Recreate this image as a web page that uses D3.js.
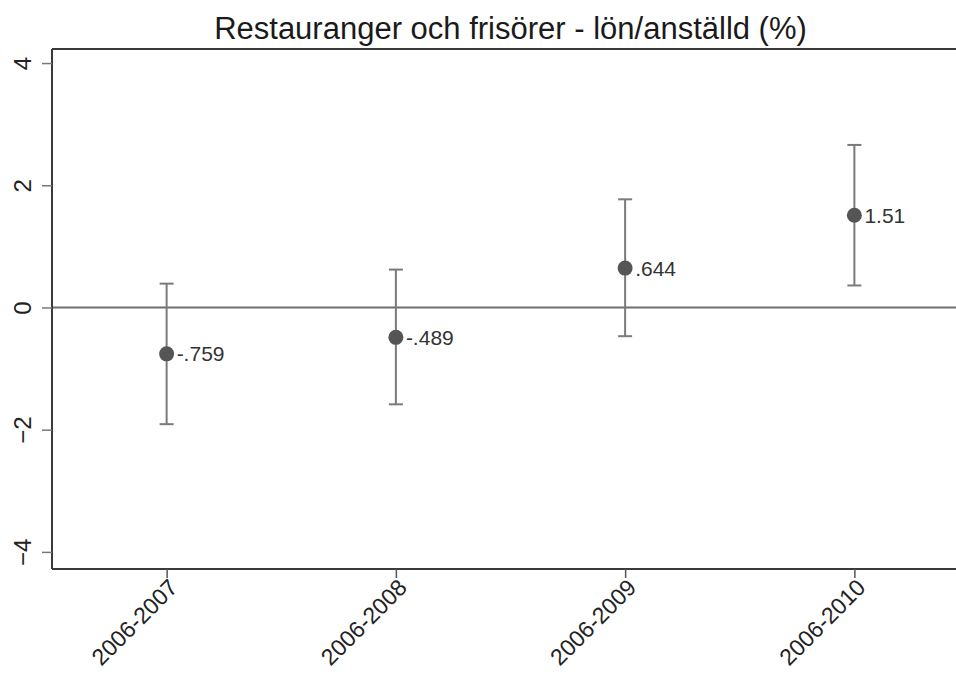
<!DOCTYPE html>
<html>
<head>
<meta charset="utf-8">
<script src="https://cdn.jsdelivr.net/npm/d3@7/dist/d3.min.js"></script>
<style>
  html, body { margin: 0; padding: 0; background: #fff; }
  svg { display: block; font-family: "Liberation Sans", Arial, sans-serif; }
</style>
</head>
<body>
<svg id="chart" width="956" height="677"></svg>
<script>
// Point estimates with 95% confidence intervals, per period
const periods = ["2006-2007", "2006-2008", "2006-2009", "2006-2010"];
const estimates = [-0.759, -0.489, 0.644, 1.51];
const lowerCI = [-1.91, -1.585, -0.47, 0.36];
const upperCI = [0.39, 0.62, 1.77, 2.66];
const estimateLabels = ["-.759", "-.489", ".644", "1.51"];
const yTicks = [-4, -2, 0, 2, 4];
const titleText = "Restauranger och frisörer - lön/anställd (%)";

const svg = d3.select("#chart");
const plotLeft = 52, plotRight = 969, plotTop = 49, plotBottom = 569;
const fontFam = "Liberation Sans, Arial, sans-serif";

const x = d3.scalePoint().domain(periods).range([plotLeft, plotRight]).padding(0.5);
const y = d3.scaleLinear().domain([-4.28, 4.23]).range([plotBottom, plotTop]);

const rows = periods.map((p, i) => ({
  period: p, est: estimates[i], lo: lowerCI[i], hi: upperCI[i], label: estimateLabels[i]
}));

// Title
svg.append("text")
  .attr("x", (plotLeft + plotRight) / 2)
  .attr("y", 39)
  .attr("text-anchor", "middle")
  .attr("font-size", 31)
  .attr("fill", "#1a1a1a")
  .text(titleText);

// Zero reference line
svg.append("line")
  .attr("x1", plotLeft).attr("x2", plotRight)
  .attr("y1", y(0)).attr("y2", y(0))
  .attr("stroke", "#6e6e6e").attr("stroke-width", 2);

// Top frame line
svg.append("line").attr("x1", plotLeft).attr("x2", plotRight)
  .attr("y1", plotTop).attr("y2", plotTop)
  .attr("stroke", "#3a3a3a").attr("stroke-width", 2);

// Y axis
const yAxis = d3.axisLeft(y).tickValues(yTicks).tickSize(10).tickPadding(10)
  .tickFormat(d3.format("d"));
const gy = svg.append("g").attr("transform", `translate(${plotLeft},0)`).call(yAxis);
gy.select(".domain").attr("stroke", "#3a3a3a").attr("stroke-width", 2)
  .attr("d", `M0,${plotTop}V${plotBottom}`);
gy.selectAll(".tick line").attr("stroke", "#777").attr("stroke-width", 1.5);
gy.selectAll(".tick text")
  .attr("font-size", 24).attr("fill", "#222")
  .attr("font-family", fontFam)
  .attr("text-anchor", "middle")
  .attr("x", null)
  .attr("y", 0)
  .attr("dy", "0.36em")
  .attr("transform", "translate(-30,0) rotate(-90)");

// X axis
const xAxis = d3.axisBottom(x).tickSize(9).tickPadding(6);
const gx = svg.append("g").attr("transform", `translate(0,${plotBottom})`).call(xAxis);
gx.select(".domain").attr("stroke", "#3a3a3a").attr("stroke-width", 2)
  .attr("d", `M${plotLeft},0H${plotRight}`);
gx.selectAll(".tick line").attr("stroke", "#555").attr("stroke-width", 1.5);
gx.selectAll(".tick text")
  .attr("font-size", 23).attr("fill", "#222")
  .attr("font-family", fontFam)
  .attr("text-anchor", "end")
  .attr("y", 0).attr("dy", null)
  .attr("transform", "translate(12,20) rotate(-45)");

// Confidence intervals
const g = svg.append("g");
const cap = 7;
g.selectAll("line.ci").data(rows).join("line")
  .attr("class", "ci")
  .attr("x1", d => x(d.period)).attr("x2", d => x(d.period))
  .attr("y1", d => y(d.lo)).attr("y2", d => y(d.hi))
  .attr("stroke", "#7a7a7a").attr("stroke-width", 2);
g.selectAll("line.capHi").data(rows).join("line")
  .attr("class", "capHi")
  .attr("x1", d => x(d.period) - cap).attr("x2", d => x(d.period) + cap)
  .attr("y1", d => y(d.hi)).attr("y2", d => y(d.hi))
  .attr("stroke", "#7a7a7a").attr("stroke-width", 2);
g.selectAll("line.capLo").data(rows).join("line")
  .attr("class", "capLo")
  .attr("x1", d => x(d.period) - cap).attr("x2", d => x(d.period) + cap)
  .attr("y1", d => y(d.lo)).attr("y2", d => y(d.lo))
  .attr("stroke", "#7a7a7a").attr("stroke-width", 2);

// Point estimates
g.selectAll("circle").data(rows).join("circle")
  .attr("cx", d => x(d.period)).attr("cy", d => y(d.est))
  .attr("r", 7.5).attr("fill", "#555");

// Value labels
g.selectAll("text.val").data(rows).join("text")
  .attr("class", "val")
  .attr("x", d => x(d.period) + 10).attr("y", d => y(d.est))
  .attr("dy", "0.36em")
  .attr("font-size", 21).attr("fill", "#333")
  .text(d => d.label);
</script>
</body>
</html>
